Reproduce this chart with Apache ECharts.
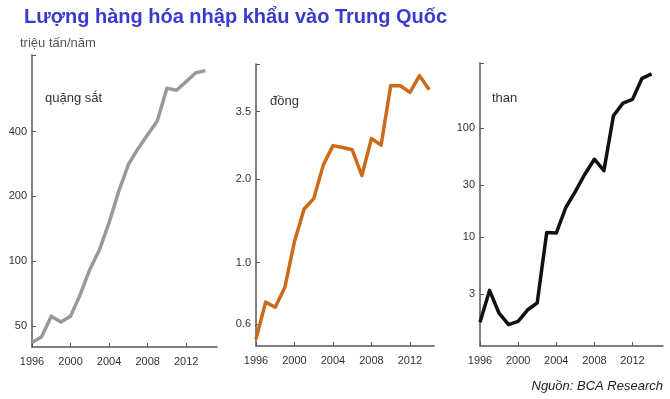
<!DOCTYPE html>
<html>
<head>
<meta charset="utf-8">
<script src="https://cdn.jsdelivr.net/npm/echarts@6/dist/echarts.min.js"></script>
<style>
  html, body { margin: 0; padding: 0; background: #fff; }
  #chartmain { width: 670px; height: 399px; }
</style>
</head>
<body>
<div id="chartmain"></div>
<script>
// năm
var years = [1996, 1997, 1998, 1999, 2000, 2001, 2002, 2003, 2004, 2005, 2006, 2007, 2008, 2009, 2010, 2011, 2012, 2013, 2014];
// triệu tấn/năm
var ironOre = [42, 44.6, 55.6, 52.2, 55.6, 70, 91.6, 113, 151, 211, 281, 333, 386, 448, 635, 622, 682, 750, 767];
var copper = [0.53, 0.72, 0.69, 0.815, 1.19, 1.56, 1.70, 2.25, 2.64, 2.60, 2.55, 2.06, 2.80, 2.65, 4.34, 4.34, 4.11, 4.72, 4.20];
var coal = [1.65, 3.24, 2.0, 1.57, 1.68, 2.15, 2.48, 11.0, 10.9, 18.7, 26.2, 37.8, 51.9, 40.8, 130, 170, 184, 287, 315];

// nhãn trục
var yearTicks = [1996, 2000, 2004, 2008, 2012];
var ironTicks = [50, 100, 200, 400];
var copperTicks = [0.6, 1.0, 2.0, 3.5];
var coalTicks = [3, 10, 30, 100];

var names = ['quặng sắt', 'đồng', 'than'];
var colors = ['#999999', '#cc6a1c', '#111111'];

var axisColor = '#555';
var labelFont = { color: '#333', fontSize: 11, fontFamily: '"Liberation Sans Narrow", "Liberation Sans", Arial, sans-serif' };

function pairs(vals) {
    return years.map(function (y, i) { return [y, vals[i]]; });
}

var grids = [
    { left: 32, top: 55, width: 185, height: 292 },
    { left: 256, top: 64, width: 178, height: 282 },
    { left: 480, top: 63, width: 183, height: 283 }
];
var xMax = [2015.2, 2014.5, 2015.2];
var yRange = [[40, 906], [0.5, 5.2], [1, 397]];
var yTicks = [ironTicks, copperTicks, coalTicks];
var datas = [ironOre, copper, coal];

var xAxes = [], yAxes = [], series = [];
for (var i = 0; i < 3; i++) {
    xAxes.push({
        type: 'value', gridIndex: i, min: 1996, max: xMax[i],
        axisLine: { show: true, lineStyle: { color: axisColor, width: 1.5 } },
        axisTick: { show: true, inside: true, length: 4, customValues: yearTicks, lineStyle: { color: axisColor } },
        axisLabel: Object.assign({ customValues: yearTicks, margin: 9, formatter: function (v) { return String(v); } }, labelFont),
        splitLine: { show: false }
    });
    yAxes.push({
        type: 'log', gridIndex: i, logBase: 10, min: yRange[i][0], max: yRange[i][1],
        axisLine: { show: true, lineStyle: { color: axisColor, width: 1.5 } },
        axisTick: { show: true, inside: true, length: 4, customValues: yTicks[i].concat([yRange[i][1]]), lineStyle: { color: axisColor } },
        axisLabel: Object.assign({
            customValues: yTicks[i], margin: 5,
            formatter: i === 1 ? function (v) { return Number(v).toFixed(1); } : function (v) { return String(v); }
        }, labelFont),
        splitLine: { show: false }
    });
    series.push({
        name: names[i], type: 'line', xAxisIndex: i, yAxisIndex: i,
        data: pairs(datas[i]), showSymbol: false, animation: false,
        lineStyle: { color: colors[i], width: 3.5, join: 'round' }
    });
}

var myChart = echarts.init(document.getElementById('chartmain'));
myChart.setOption({
    backgroundColor: '#fff',
    title: [
        { text: 'Lượng hàng hóa nhập khẩu vào Trung Quốc', left: 19, top: 2,
          textStyle: { color: '#3a3acc', fontSize: 20, fontWeight: 'bold', fontFamily: '"Liberation Sans", Arial, sans-serif' } },
        { text: 'triệu tấn/năm', left: 15, top: 32,
          textStyle: { color: '#555', fontSize: 13, fontWeight: 'normal', fontFamily: '"Liberation Sans", Arial, sans-serif' } }
    ],
    grid: grids,
    xAxis: xAxes,
    yAxis: yAxes,
    series: series,
    graphic: [
        { type: 'text', left: 45, top: 92, style: { text: names[0], fill: '#333', font: '13px "Liberation Sans", Arial, sans-serif' } },
        { type: 'text', left: 270, top: 95, style: { text: names[1], fill: '#333', font: '13px "Liberation Sans", Arial, sans-serif' } },
        { type: 'text', left: 492, top: 92, style: { text: names[2], fill: '#333', font: '13px "Liberation Sans", Arial, sans-serif' } },
        { type: 'text', right: 7, top: 380, style: { text: 'Nguồn: BCA Research', fill: '#222', font: 'italic 13px "Liberation Sans", Arial, sans-serif' } }
    ]
});
window.addEventListener('resize', function () {
    myChart.resize();
});
</script>
</body>
</html>
